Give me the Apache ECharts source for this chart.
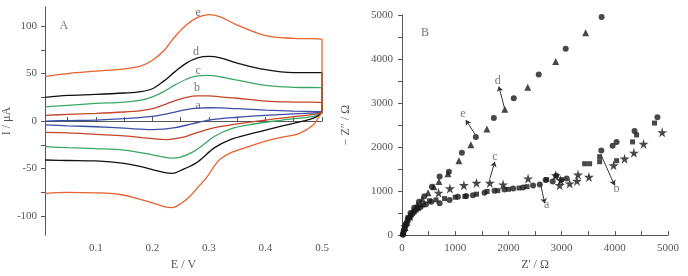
<!DOCTYPE html>
<html>
<head>
<meta charset="utf-8">
<script src="https://cdn.jsdelivr.net/npm/echarts@6/dist/echarts.min.js"></script>
<style>
  html, body { margin: 0; padding: 0; background: #fff; }
  #main { width: 688px; height: 276px; }
</style>
</head>
<body>
<div id="main"></div>
<script>
// panel A: cyclic voltammograms, [E (V), I (uA)]
const aForward = [[0.01,0],[0.05,0.5],[0.1,1],[0.15,2.5],[0.2,5],[0.22,7],[0.24,9.5],[0.26,12],[0.28,13.5],[0.3,14],[0.32,13.8],[0.35,13],[0.4,11.5],[0.45,10.5],[0.5,10]]
const aReverse = [[0.5,9],[0.45,7.5],[0.4,6],[0.35,4],[0.3,1],[0.27,-3],[0.24,-7],[0.22,-8.5],[0.2,-9],[0.15,-7.5],[0.1,-6],[0.05,-5],[0.01,-4]]
const bForward = [[0.01,6],[0.05,7],[0.1,8],[0.15,9.5],[0.18,11],[0.2,13],[0.22,17],[0.24,21.5],[0.26,25],[0.28,26.5],[0.3,26.5],[0.32,25.5],[0.35,24],[0.4,21],[0.45,20],[0.5,19.5],[0.5,9]]
const bReverse = [[0.5,9],[0.485,7],[0.4,1],[0.35,-3],[0.31,-7],[0.28,-12],[0.26,-16],[0.24,-18.5],[0.225,-19.5],[0.2,-18.5],[0.15,-15.5],[0.1,-14],[0.05,-12.5],[0.01,-12]]
const cForward = [[0.01,15],[0.05,16.5],[0.1,18.5],[0.15,20],[0.18,22],[0.2,25.5],[0.22,31],[0.24,38],[0.26,44],[0.28,47.5],[0.3,48],[0.32,46.5],[0.35,43],[0.4,37.5],[0.45,35.5],[0.5,35],[0.5,8]]
const cReverse = [[0.5,8],[0.485,5],[0.43,1],[0.37,-4],[0.34,-8],[0.31,-16],[0.29,-25],[0.27,-33],[0.25,-38],[0.235,-39],[0.22,-38],[0.2,-35.5],[0.15,-30.5],[0.1,-29],[0.05,-28],[0.01,-27]]
const dForward = [[0.01,25],[0.05,27],[0.1,28],[0.15,29.5],[0.18,31],[0.2,34],[0.22,42],[0.24,52],[0.26,61],[0.28,66.5],[0.3,68],[0.32,66.5],[0.35,61],[0.4,54],[0.45,51],[0.5,51],[0.5,9]]
const dReverse = [[0.5,9],[0.485,3],[0.43,-5],[0.37,-14],[0.34,-19],[0.31,-28],[0.28,-43],[0.25,-52],[0.235,-55],[0.22,-54],[0.2,-51],[0.18,-48],[0.15,-44.5],[0.1,-42],[0.05,-41.5],[0.01,-41]]
const eForward = [[0.01,47],[0.05,50],[0.1,52.5],[0.15,55],[0.18,58],[0.2,64],[0.22,74],[0.24,89],[0.26,101],[0.28,109],[0.3,112],[0.32,109.5],[0.35,101],[0.4,90],[0.45,87],[0.5,86],[0.5,9]]
const eReverse = [[0.5,9],[0.495,5],[0.485,-4],[0.46,-13],[0.43,-17],[0.4,-21],[0.37,-27],[0.34,-33],[0.32,-40],[0.31,-47],[0.295,-60],[0.28,-70],[0.265,-80],[0.25,-87],[0.235,-91],[0.22,-90],[0.2,-86],[0.17,-81],[0.14,-77],[0.1,-75.5],[0.05,-75],[0.01,-76]]

const cvColors = { a: '#3b4ea8', b: '#c4442c', c: '#3aa862', d: '#111111', e: '#e8612e' }
const cvLabels = [['e',0.281,114],['d',0.277,73],['c',0.281,53],['b',0.279,35],['a',0.281,16]]

// panel B: Nyquist plots, [Z' (ohm), -Z'' (ohm)]
const eNyq = [[20,20],[40,120],[70,250],[110,380],[160,500],[230,620],[320,760],[420,880],[563,1100],[707,1330],[882,1441],[1126,1869],[1388,2230],[1726,2658],[2101,3108],[2570,3649],[3077,4234],[3752,4955]]
const dNyq = [[30,60],[55,180],[90,300],[140,430],[200,560],[280,680],[380,820],[490,960],[600,1100],[694,1216],[863,1396],[1069,1689],[1295,2050],[1595,2410],[1932,2860],[2364,3356],[2889,3941],[3452,4595]]
const cNyq = [[60,200],[150,420],[300,650],[688,961],[900,1058],[1163,1133],[1400,1186],[1651,1186],[1901,1148],[2370,1284],[2889,1358],[2983,1246],[2964,1133],[3152,1171],[3308,1374],[3289,1231],[3514,1321],[3977,1584],[4184,1734],[4359,1869],[4540,2072],[4891,2335]]
const aNyq = [[15,10],[35,100],[60,200],[95,300],[140,400],[200,490],[270,570],[350,640],[450,700],[550,758],[707,721],[894,795],[1051,871],[1207,886],[1332,908],[1551,961],[1739,1006],[1926,1036],[2089,1059],[2277,1081],[2464,1126],[2590,1149],[2700,1250],[2833,1216],[2900,1350],[3095,1284],[3746,1921],[3959,2027],[4034,2117],[4371,2365],[4802,2680]]
const bNyq = [[20,40],[45,140],[75,240],[115,340],[165,440],[230,530],[300,610],[394,683],[519,780],[640,800],[800,830],[1000,860],[1182,878],[1400,930],[1600,990],[1800,1010],[2000,1040],[2200,1070],[2350,1100],[2720,1260],[3000,1260],[3433,1621],[3527,1621],[3715,1667],[3715,1780],[4034,1690],[4334,2117],[4409,2275],[4746,2545]]

const nyqLabels = [['e',1144,2748],['d',1801,3514],['c',1745,1779],['a',2720,676],['b',4034,1059]]
const nyqArrows = [[[1200,2613],[1370,2297]],[[1820,3378],[1932,2860]],[[1745,1667],[1651,1284]],[[2683,721],[2602,1171]],[[3996,1133],[3746,1808]]]

const cvTicksX = [0.05,0.1,0.15,0.2,0.25,0.3,0.35,0.4,0.45,0.5]
const cvLabelsX = [0.1,0.2,0.3,0.4,0.5]
const cvTicksY = [-100,-75,-50,-25,0,25,50,75,100]
const cvLabelsY = [-100,-50,0,50,100]
const nyqTicks = [0,500,1000,1500,2000,2500,3000,3500,4000,4500,5000]
const nyqTickLabels = [0,1000,2000,3000,4000,5000]

const font = 'Liberation Serif'
const txt = '#555'
const starPath = 'path://M50,0 L61,35 L98,35 L68,57 L79,91 L50,70 L21,91 L32,57 L2,35 L39,35 Z'

const chart = echarts.init(document.getElementById('main'))

const axisCommon = {
    axisLine: { lineStyle: { color: '#555', width: 1 } },
    splitLine: { show: false },
    axisLabel: { color: txt, fontFamily: font, fontSize: 11, formatter: v => String(v) },
    nameTextStyle: { color: txt, fontFamily: font, fontSize: 12 }
}

const cvLine = (name, data) => ({
    type: 'line', xAxisIndex: 0, yAxisIndex: 0, data: data,
    smooth: 0.35, showSymbol: false, silent: true,
    lineStyle: { color: cvColors[name], width: 1.3 }
})

const nyqScatter = (data, symbol, size) => ({
    type: 'scatter', xAxisIndex: 1, yAxisIndex: 1, data: data,
    symbol: symbol, symbolSize: size, silent: true,
    itemStyle: { color: '#1a1a1a' }
})

chart.setOption({
    animation: false,
    grid: [
        { left: 43, top: 7, width: 279, height: 233 },
        { left: 402, top: 15, width: 266, height: 222 }
    ],
    xAxis: [
        Object.assign({}, axisCommon, {
            gridIndex: 0, type: 'value', min: 0.01, max: 0.5,
            name: 'E / V', nameLocation: 'middle', nameGap: 20,
            axisTick: { inside: true, length: 4, customValues: cvTicksX, lineStyle: { color: '#555' } },
            axisLabel: Object.assign({}, axisCommon.axisLabel, { customValues: cvLabelsX, margin: 8 })
        }),
        Object.assign({}, axisCommon, {
            gridIndex: 1, type: 'value', min: 0, max: 5000,
            name: "Z' / Ω", nameLocation: 'middle', nameGap: 23,
            axisTick: { inside: true, length: 4, customValues: nyqTicks, lineStyle: { color: '#555' } },
            axisLabel: Object.assign({}, axisCommon.axisLabel, { customValues: nyqTickLabels, margin: 8 })
        })
    ],
    yAxis: [
        Object.assign({}, axisCommon, {
            gridIndex: 0, type: 'value', min: -120, max: 120,
            name: 'I / μA', nameLocation: 'middle', nameGap: 30,
            axisLine: { show: true, lineStyle: { color: '#555', width: 1 } },
            axisTick: { length: 4, customValues: cvTicksY, lineStyle: { color: '#555' } },
            axisLabel: Object.assign({}, axisCommon.axisLabel, { customValues: cvLabelsY, margin: 8 })
        }),
        Object.assign({}, axisCommon, {
            gridIndex: 1, type: 'value', min: 0, max: 5000,
            name: "− Z″ / Ω", nameLocation: 'middle', nameGap: 50,
            axisLine: { show: true, lineStyle: { color: '#555', width: 1 } },
            axisTick: { length: 4, customValues: nyqTicks, lineStyle: { color: '#555' } },
            axisLabel: Object.assign({}, axisCommon.axisLabel, { customValues: nyqTickLabels, margin: 9 })
        })
    ],
    series: [
        cvLine('a', aForward), cvLine('a', aReverse),
        cvLine('b', bForward), cvLine('b', bReverse),
        cvLine('c', cForward), cvLine('c', cReverse),
        cvLine('d', dForward), cvLine('d', dReverse),
        cvLine('e', eForward), cvLine('e', eReverse),
        {
            type: 'scatter', xAxisIndex: 0, yAxisIndex: 0, symbolSize: 0, silent: true,
            data: cvLabels.map(l => ({ value: [l[1], l[2]], name: l[0] }))
                .concat([{ value: [0.043, 100], name: 'A' }]),
            label: { show: true, position: 'inside', formatter: '{b}', color: txt, fontFamily: font, fontSize: 12 }
        },
        nyqScatter(aNyq, 'circle', 6),
        nyqScatter(bNyq, 'rect', 5),
        nyqScatter(cNyq, starPath, 10),
        nyqScatter(dNyq, 'triangle', 7),
        nyqScatter(eNyq, 'circle', 6),
        {
            type: 'scatter', xAxisIndex: 1, yAxisIndex: 1, symbolSize: 0, silent: true,
            data: nyqLabels.map(l => ({ value: [l[1], l[2]], name: l[0] }))
                .concat([{ value: [431, 4595], name: 'B' }]),
            label: { show: true, position: 'inside', formatter: '{b}', color: txt, fontFamily: font, fontSize: 12 },
            markLine: {
                silent: true, symbol: ['arrow', 'none'], symbolSize: 5,
                label: { show: false },
                lineStyle: { color: '#333', width: 1, type: 'solid' },
                data: nyqArrows.map(a => [{ coord: a[0] }, { coord: a[1] }])
            }
        }
    ]
})
</script>
</body>
</html>
